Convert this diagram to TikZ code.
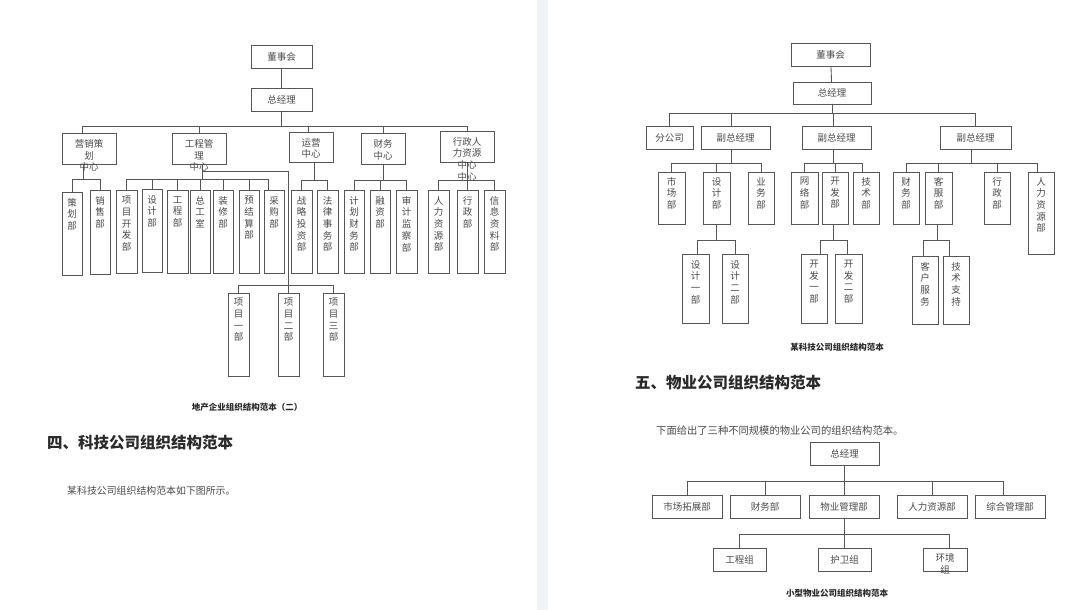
\documentclass[tikz,border=0pt]{standalone}
\usepackage{fontspec}
\setmainfont{Noto Sans CJK SC}
\definecolor{ln}{HTML}{555555}
\definecolor{tx}{HTML}{4A4A4A}
\definecolor{hd}{HTML}{2A2A2A}
\definecolor{sepc}{HTML}{F2F3F5}
\tikzset{
 obx/.style={draw=ln, line width=0.85pt, fill=white, inner sep=0pt, outer sep=0pt, text=tx, font=\fontsize{9.5}{11.5}\selectfont, align=center},
 vtx/.style={inner sep=0pt, text=tx, font=\fontsize{9.5}{11.7}\selectfont, align=center, anchor=north},
 con/.style={draw=ln, line width=0.85pt},
 capt/.style={inner sep=0pt, text=hd, font=\fontsize{8.5}{10}\selectfont\bfseries},
 headt/.style={inner sep=0pt, text=hd, font=\fontsize{15.5}{18}\selectfont\bfseries, anchor=west},
 parat/.style={inner sep=0pt, text=tx, anchor=west},
}
\newcommand\hbx[6]{\pgfmathsetmacro\obw{#4-#2}\pgfmathsetmacro\obh{#5-#3}%
 \node[obx, anchor=north west, minimum width=\obw pt, minimum height=\obh pt] (#1) at (#2,#3) {#6};}
\newcommand\vbx[7]{\pgfmathsetmacro\obw{#4-#2}\pgfmathsetmacro\obh{#5-#3}%
 \node[obx, anchor=north west, minimum width=\obw pt, minimum height=\obh pt] (#1) at (#2,#3) {};
 \node[vtx] (#1t) at ([yshift=-#7pt]#1.north) {#6};}
\begin{document}
\begin{tikzpicture}[x=1pt,y=-1pt]
\useasboundingbox (0,0) rectangle (1080,610);
\fill[white] (0,0) rectangle (1080,610);
\fill[sepc] (537,0) rectangle (548,610);

% ================= LEFT CHART =================
\hbx{bd1}{251}{45}{312}{68}{董事会}
\hbx{gm1}{251}{88}{312}{111}{总经理}
\draw[con] (bd1) -- (gm1);

\hbx{c1}{62}{133}{116}{164}{}
\hbx{c2}{172}{133}{226}{164}{}
\hbx{c3}{289}{132}{333}{162}{}
\hbx{c4}{361}{133}{405}{164}{}
\hbx{c5}{440}{131}{494}{162}{}
\node[vtx, anchor=center] (c1t) at (89,155.5) {营销策\\划\\中心};
\node[vtx, anchor=center] (c2t) at (199,155.5) {工程管\\理\\中心};
\node[vtx, anchor=center] (c3t) at (311,148.5) {运营\\中心};
\node[vtx, anchor=center] (c4t) at (383,150) {财务\\中心};
\node[vtx, anchor=center] (c5t) at (467,159) {行政人\\力资源\\中心\\中心};

\draw[con] (gm1.south) -- ++(0,15) -| ([xshift=-7pt]c1.north);
\draw[con] (gm1.south) -- ++(0,15) -| (c2.north);
\draw[con] (gm1.south) -- ++(0,15) -| ([xshift=-3pt]c3.north);
\draw[con] (gm1.south) -- ++(0,15) -| (c4.north);
\draw[con] (gm1.south) -- ++(0,15) -| (c5.north);

\vbx{l11}{62}{192}{82}{275}{策\\划\\部}{6}
\vbx{l12}{90}{190}{110}{274}{销\\售\\部}{6}
\vbx{l21}{116}{190}{137}{273}{项\\目\\开\\发\\部}{6}
\vbx{l22}{142}{189}{162}{272}{设\\计\\部}{6}
\vbx{l23}{167}{190}{188}{273}{工\\程\\部}{6}
\vbx{l24}{190}{190}{210}{273}{总\\工\\室}{6}
\vbx{l25}{213}{190}{233}{273}{装\\修\\部}{6}
\vbx{l26}{239}{190}{259}{273}{预\\结\\算\\部}{6}
\vbx{l27}{264}{190}{284}{273}{采\\购\\部}{6}
\vbx{l31}{291}{190}{312}{273}{战\\略\\投\\资\\部}{6}
\vbx{l32}{317}{190}{338}{273}{法\\律\\事\\务\\部}{6}
\vbx{l41}{344}{190}{364}{273}{计\\划\\财\\务\\部}{6}
\vbx{l42}{370}{190}{390}{273}{融\\资\\部}{6}
\vbx{l43}{396}{190}{417}{273}{审\\计\\监\\察\\部}{6}
\vbx{l51}{428}{190}{449}{273}{人\\力\\资\\源\\部}{6}
\vbx{l52}{457}{190}{478}{273}{行\\政\\部}{6}
\vbx{l53}{484}{190}{505}{273}{信\\息\\资\\料\\部}{6}

\draw[con] ([xshift=-6pt]c1.south) -- ++(0,15) -| (l11.north);
\draw[con] ([xshift=-6pt]c1.south) -- ++(0,15) -| (l12.north);
\foreach \c in {l21,l22,l23,l24,l25,l26}{
 \draw[con] ([xshift=3pt]c2.south) -- ++(0,15) -| (\c.north);}
\draw[con] ([xshift=3pt]c2.south) -- ++(0,15) -| ([xshift=-6pt]l27.north);
\draw[con] ([xshift=3pt]c3.south) -- ++(0,18) -| (l31.north);
\draw[con] ([xshift=3pt]c3.south) -- ++(0,18) -| (l32.north);
\foreach \c in {l41,l42,l43}{
 \draw[con] (c4.south) -- ++(0,16) -| (\c.north);}
\foreach \c in {l51,l52,l53}{
 \draw[con] (c5.south) -- ++(0,18) -| (\c.north);}

\vbx{p1}{228}{293}{249}{376}{项\\目\\一\\部}{5}
\vbx{p2}{278}{293}{299}{376}{项\\目\\二\\部}{5}
\vbx{p3}{323}{293}{344}{376}{项\\目\\三\\部}{5}
\coordinate (pj) at (288.5,285);
\draw[con] ([xshift=3pt]c2.south) ++(0,7) -| (pj);
\draw[con] (pj) -| (p1.north);
\draw[con] (pj) -- (p2.north);
\draw[con] (pj) -| (p3.north);

\node[capt] (cap1) at (247,407) {地产企业组织结构范本（二）};
\node[headt] (h4) at (47,443) {四、科技公司组织结构范本};
\node[parat, font=\fontsize{9.9}{11}\selectfont] (t4) at (67,491) {某科技公司组织结构范本如下图所示。};

% ================= RIGHT CHART (tech) =================
\hbx{bd2}{791}{43}{870}{66}{董事会}
\hbx{gm2}{793}{82}{871}{104}{总经理}
\draw[con] (bd2) -- (gm2);
\hbx{r1}{646}{126}{693}{149}{分公司}
\hbx{r2}{701}{126}{770}{149}{副总经理}
\hbx{r3}{802}{126}{871}{149}{副总经理}
\hbx{r4}{940}{126}{1011}{149}{副总经理}
\draw[con] (gm2.south) -- ++(0,9) -| (r1.north);
\draw[con] (gm2.south) -- ++(0,9) -| ([xshift=-4.5pt]r2.north);
\draw[con] (gm2.south) -- ++(0,9) -| ([xshift=-3.5pt]r3.north);
\draw[con] (gm2.south) -- ++(0,9) -| (r4.north);

\vbx{s21}{658}{172}{685}{224}{市\\场\\部}{5}
\vbx{s22}{703}{172}{730}{224}{设\\计\\部}{5}
\vbx{s23}{748}{172}{774}{224}{业\\务\\部}{5}
\vbx{s31}{791}{172}{818}{224}{网\\络\\部}{5}
\vbx{s32}{822}{172}{848}{224}{开\\发\\部}{5}
\vbx{s33}{853}{172}{879}{224}{技\\术\\部}{5}
\vbx{s41}{893}{172}{919}{224}{财\\务\\部}{5}
\vbx{s42}{925}{172}{952}{224}{客\\服\\部}{5}
\vbx{s43}{984}{172}{1010}{224}{行\\政\\部}{5}
\vbx{s44}{1028}{172}{1054}{254}{人\\力\\资\\源\\部}{5}
\foreach \c in {s21,s22,s23}{
 \draw[con] ([xshift=-4.5pt]r2.south) -- ++(0,14) -| (\c.north);}
\foreach \c in {s31,s32}{
 \draw[con] ([xshift=-3.5pt]r3.south) -- ++(0,14) -| (\c.north);}
\draw[con] ([xshift=-3.5pt]r3.south) -- ++(0,14) -| ([xshift=-4pt]s33.north);
\foreach \c in {s41,s42,s43}{
 \draw[con] ([xshift=-4.5pt]r4.south) -- ++(0,14) -| (\c.north);}
\draw[con] ([xshift=-4.5pt]r4.south) -- ++(0,14) -| ([xshift=-4pt]s44.north);

\vbx{t1}{682}{254}{709}{323}{设\\计\\一\\部}{6}
\vbx{t2}{722}{254}{748}{323}{设\\计\\二\\部}{6}
\vbx{t3}{801}{254}{827}{323}{开\\发\\一\\部}{6}
\vbx{t4}{835}{254}{862}{323}{开\\发\\二\\部}{6}
\vbx{t5}{912}{256}{938}{324}{客\\户\\服\\务}{6}
\vbx{t6}{943}{256}{969}{324}{技\\术\\支\\持}{6}
\draw[con] (s22.south) -- ++(0,16) -| ([xshift=2pt]t1.north);
\draw[con] (s22.south) -- ++(0,16) -| (t2.north);
\draw[con] ([xshift=-2pt]s32.south) -- ++(0,16) -| ([xshift=6pt]t3.north);
\draw[con] ([xshift=-2pt]s32.south) -- ++(0,16) -| ([xshift=-1.5pt]t4.north);
\draw[con] ([xshift=-1.5pt]s42.south) -- ++(0,16) -| ([xshift=-2pt]t5.north);
\draw[con] ([xshift=-1.5pt]s42.south) -- ++(0,16) -| ([xshift=-7pt]t6.north);

\node[capt] (cap2) at (837,347) {某科技公司组织结构范本};
\node[headt] (h5) at (635,383) {五、物业公司组织结构范本};
\node[parat, font=\fontsize{10.3}{12}\selectfont] (t5p) at (656,431) {下面给出了三种不同规模的物业公司的组织结构范本。};

% ================= RIGHT CHART (property) =================
\hbx{g3}{810}{442}{879}{465}{总经理}
\hbx{m1}{652}{495}{722}{518}{市场拓展部}
\hbx{m2}{730}{495}{800}{518}{财务部}
\hbx{m3}{809}{495}{879}{518}{物业管理部}
\hbx{m4}{897}{495}{967}{518}{人力资源部}
\hbx{m5}{975}{495}{1045}{518}{综合管理部}
\foreach \c in {m1,m2,m3,m4}{
 \draw[con] (g3.south) -- ++(0,16) -| (\c.north);}
\draw[con] (g3.south) -- ++(0,16) -| ([xshift=-7pt]m5.north);

\hbx{n1}{713}{548}{766}{571}{工程组}
\hbx{n2}{818}{548}{871}{571}{护卫组}
\hbx{n3}{923}{548}{967}{571}{}
\node[vtx, anchor=center] (n3t) at (945,564) {环境\\组};
\draw[con] (m3.south) -- ++(0,16) -| (n1.north);
\draw[con] (m3.south) -- ++(0,16) -| (n2.north);
\draw[con] (m3.south) -- ++(0,16) -| ([xshift=4pt]n3.north);

\node[capt] (cap3) at (837,593) {小型物业公司组织结构范本};
\end{tikzpicture}
\end{document}
